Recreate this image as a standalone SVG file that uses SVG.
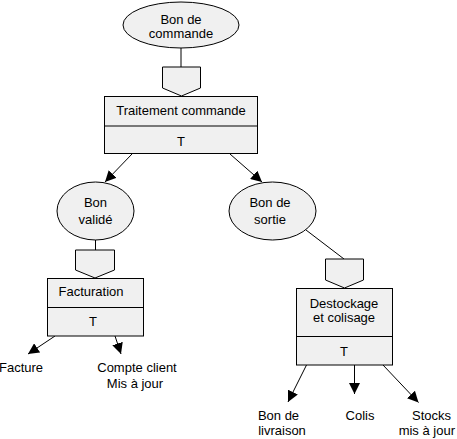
<svg xmlns="http://www.w3.org/2000/svg" width="457" height="439" viewBox="0 0 457 439">
<style>
.s{fill:#f0f0f0;stroke:#000;stroke-width:1}
.l{fill:none;stroke:#000;stroke-width:1}
text{font-family:"Liberation Sans",Arial,sans-serif;font-size:13px;fill:#000;text-anchor:middle}
</style>
<defs>
<marker id="a" markerUnits="userSpaceOnUse" markerWidth="12" markerHeight="11" refX="11" refY="5.5" orient="auto" viewBox="0 0 12 11">
<path d="M0,0 L11,5.5 L0,11 z" fill="#000"/>
</marker>
</defs>
<rect width="457" height="439" fill="#fff"/>
<g id="connectors">
<line class="l" x1="181" y1="48" x2="181" y2="67"/>
<line class="l" x1="132" y1="154" x2="105" y2="182" marker-end="url(#a)"/>
<line class="l" x1="230" y1="154" x2="262" y2="182" marker-end="url(#a)"/>
<line class="l" x1="95.5" y1="240" x2="95.5" y2="250"/>
<line class="l" x1="306" y1="230" x2="344" y2="259"/>
<line class="l" x1="55" y1="336" x2="28" y2="354" marker-end="url(#a)"/>
<line class="l" x1="115" y1="336" x2="121" y2="354" marker-end="url(#a)"/>
<line class="l" x1="306.5" y1="365" x2="288" y2="402" marker-end="url(#a)"/>
<line class="l" x1="354.5" y1="365" x2="354.5" y2="394" marker-end="url(#a)"/>
<line class="l" x1="383" y1="365" x2="418.5" y2="402.5" marker-end="url(#a)"/>
</g>
<g id="bon-commande">
<ellipse class="s" cx="181" cy="25" rx="58" ry="23"/>
<text x="181" y="24">Bon de</text>
<text x="181" y="38">commande</text>
</g>
<g id="traitement-commande">
<path class="s" d="M162.5,67 H200.5 V88 L181.5,96 L162.5,88 Z"/>
<rect class="s" x="104.5" y="96.5" width="153" height="57"/>
<line class="l" x1="104.5" y1="126" x2="257.5" y2="126"/>
<text x="181" y="114.5">Traitement commande</text>
<text x="181" y="146">T</text>
</g>
<g id="bon-valide">
<ellipse class="s" cx="95.5" cy="211" rx="38.5" ry="29"/>
<text x="95.5" y="207">Bon</text>
<text x="95.5" y="223.5">validé</text>
</g>
<g id="bon-sortie">
<ellipse class="s" cx="272.5" cy="211" rx="43.5" ry="29"/>
<text x="270" y="207">Bon de</text>
<text x="270" y="223.5">sortie</text>
</g>
<g id="facturation">
<path class="s" d="M75.5,250 H114.5 V270 L95,278 L75.5,270 Z"/>
<rect class="s" x="47.5" y="278.5" width="96" height="57.5"/>
<line class="l" x1="47.5" y1="307.5" x2="143.5" y2="307.5"/>
<text x="91" y="296">Facturation</text>
<text x="93" y="326">T</text>
</g>
<g id="destockage">
<path class="s" d="M325.5,259 H363.5 V280 L344.5,288 L325.5,280 Z"/>
<rect class="s" x="296.5" y="288.5" width="96" height="76.5"/>
<line class="l" x1="296.5" y1="336.5" x2="392.5" y2="336.5"/>
<text x="344" y="308">Destockage</text>
<text x="344" y="322">et colisage</text>
<text x="344" y="356">T</text>
</g>
<g id="facture"><text x="21" y="371.5">Facture</text></g>
<g id="compte-client">
<text x="137" y="371.5">Compte client</text>
<text x="135" y="387.5">Mis à jour</text>
</g>
<g id="bon-livraison">
<text x="278.5" y="420">Bon de</text>
<text x="282" y="435">livraison</text>
</g>
<g id="colis"><text x="360" y="420">Colis</text></g>
<g id="stocks">
<text x="431.5" y="420">Stocks</text>
<text x="455" y="435" style="text-anchor:end">mis à jour</text>
</g>
</svg>
